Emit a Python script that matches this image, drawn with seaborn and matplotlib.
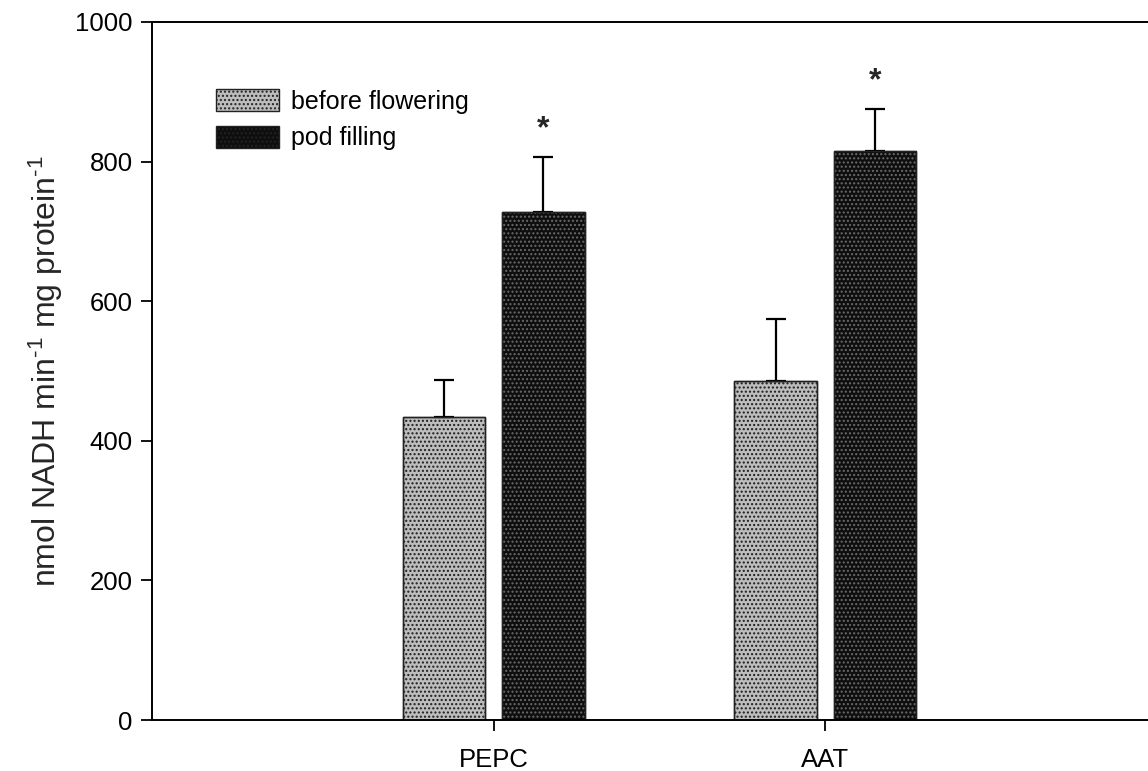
import matplotlib
matplotlib.use("Agg")
import matplotlib.pyplot as plt
from matplotlib.patches import Rectangle, Patch
import seaborn as sns
import pandas as pd

enzymes = ["PEPC", "AAT"]
stages = ["before flowering", "pod filling"]
before_flowering = [434, 486]
pod_filling = [728, 815]
se_before = [53, 88]
se_pod = [79, 60]

df = pd.DataFrame({
    "enzyme": enzymes * 2,
    "stage": [stages[0]] * 2 + [stages[1]] * 2,
    "activity": before_flowering + pod_filling,
})

sns.set_style("white")
plt.rcParams["font.family"] = ["Liberation Sans", "DejaVu Sans"]
plt.rcParams["mathtext.default"] = "regular"
plt.rcParams["hatch.linewidth"] = 1.0

fig = plt.figure(figsize=(11.48, 7.71), dpi=100)
ax = fig.add_axes([0.1324, 0.0661, 0.8754, 0.9054])

fills = {stages[0]: "#bdbdbd", stages[1]: "#0e0e0e"}
dots = {stages[0]: "#1e1e1e", stages[1]: "#6a6a6a"}

sns.barplot(data=df, x="enzyme", y="activity", hue="stage", order=enzymes,
            hue_order=stages, palette=fills, width=0.6, gap=0.17,
            errorbar=None, edgecolor="#222222", linewidth=1.0,
            legend=False, ax=ax)

# dotted texture over each bar
bars = ax.patches[:4]
bar_stage = [stages[0], stages[0], stages[1], stages[1]]
for p, st in zip(bars, bar_stage):
    ax.add_patch(Rectangle((p.get_x(), 0), p.get_width(), p.get_height(),
                           facecolor="none", edgecolor=dots[st], hatch="....",
                           linewidth=0, zorder=p.get_zorder() + 0.1))
    ax.add_patch(Rectangle((p.get_x(), 0), p.get_width(), p.get_height(),
                           facecolor="none", edgecolor="#222222",
                           linewidth=1.0, zorder=p.get_zorder() + 0.2))

# upward-only error bars
values = before_flowering + pod_filling
errors = se_before + se_pod
for p, v, e in zip(bars, values, errors):
    cx = p.get_x() + p.get_width() / 2
    ax.errorbar(cx, v, yerr=[[0], [e]], fmt="none", ecolor="black",
                elinewidth=1.6, capsize=7.5, capthick=1.6, zorder=1)

# significance markers above pod filling bars
for p, v, e in zip(bars[2:], pod_filling, se_pod):
    cx = p.get_x() + p.get_width() / 2
    ax.text(cx, v + e + 18, "*", ha="center", va="bottom", fontsize=23,
            fontweight="bold")

ax.set_xlim(-1.03, 2.0)
ax.set_ylim(0, 1000)
ax.set_yticks([0, 200, 400, 600, 800, 1000])
ax.set_xlabel("")
ax.set_ylabel("nmol NADH min$^{\u20101}$ mg protein$^{\u20101}$", fontsize=23,
              labelpad=7)
ax.tick_params(axis="both", direction="out", length=8, width=1.3,
               labelsize=18.5, pad=6, colors="black", bottom=True, left=True)
ax.tick_params(axis="x", pad=12)
for side in ["left", "bottom", "top"]:
    ax.spines[side].set_linewidth(1.4)
    ax.spines[side].set_color("black")
ax.spines["right"].set_visible(False)

handles = [Patch(facecolor=fills[s], edgecolor="#222222", hatch="....", label=s)
           for s in stages]
leg = ax.legend(handles=handles, loc="upper left", bbox_to_anchor=(0.054, 0.918),
                frameon=False, fontsize=18, handlelength=2.5, handleheight=0.95,
                handletextpad=0.5, labelspacing=0.5, borderaxespad=0)
for t in leg.get_texts():
    t.set_color("black")

fig.savefig("out.png", dpi=100)
